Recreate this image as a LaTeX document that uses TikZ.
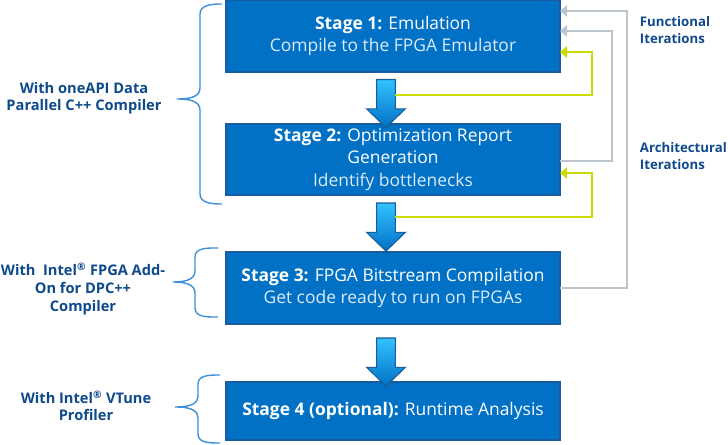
\documentclass[tikz,border=0pt]{standalone}
\usepackage{fontspec}
\setmainfont{Open Sans}
\usepackage{tikz}
\usetikzlibrary{shapes,arrows,arrows.meta,positioning,calc}
\usepackage{xcolor}

\definecolor{intelblue}{HTML}{0071C5}
\definecolor{boxline}{HTML}{1A5B9B}
\definecolor{labelblue}{HTML}{0E498C}
\definecolor{bracecol}{HTML}{3D8FD6}
\definecolor{loopgreen}{HTML}{C8DC00}
\definecolor{loopgrey}{HTML}{BCC4CC}
\definecolor{subtext}{HTML}{DCEBF8}

\tikzset{
  stagebox/.style={draw=boxline, line width=1pt, fill=intelblue, text=white, minimum width=8.35cm, align=center, inner sep=0pt,
    font=\fontsize{12.4}{15.8}\selectfont},
  flowarrow/.style={single arrow, shape border rotate=270, draw=boxline, line width=0.8pt, top color=cyan!70!blue!80, bottom color=intelblue,
    minimum height=1.2cm, minimum width=0.95cm, single arrow head extend=0.25cm, single arrow tip angle=92, inner sep=0.22cm},
  greenloop/.style={draw=loopgreen, line width=2pt, -{Triangle[length=5pt,width=8pt]}},
  greyloop/.style={draw=loopgrey, line width=2pt, -{Triangle[length=5pt,width=8pt]}},
  sidelabel/.style={text=labelblue, align=center, font=\bfseries\fontsize{10.4}{12.5}\selectfont},
  iterlabel/.style={text=labelblue, align=left, anchor=west, font=\bfseries\fontsize{9.4}{12.5}\selectfont},
  bracket/.style={draw=bracecol, line width=1pt},
}

\begin{document}
\begin{tikzpicture}[x=0.025cm, y=-0.025cm]
  \useasboundingbox (0,0) rectangle (728,445);

  % stages
  \node[stagebox, minimum height=1.8cm] (s1) at (393,36) {\textbf{Stage 1:} Emulation\\{\color{subtext}Compile to the FPGA Emulator}};
  \node[stagebox, minimum height=1.775cm] (s2) at (393,159.5) {\textbf{Stage 2:} Optimization Report\\Generation\\{\color{subtext}Identify bottlenecks}};
  \node[stagebox, minimum height=1.8cm] (s3) at (393,288) {\textbf{Stage 3:} FPGA Bitstream Compilation\\{\color{subtext}Get code ready to run on FPGAs}};
  \node[stagebox, minimum height=1.45cm] (s4) at (393,411) {\textbf{Stage 4 (optional):} Runtime Analysis};

  % block arrows between stages
  \node[flowarrow] (a12) at (386,99) {};
  \node[flowarrow] (a23) at (386,222.5) {};
  \node[flowarrow] (a34) at (386,357.5) {};

  % iteration loops
  \coordinate (g1) at (395,95);
  \coordinate (g2) at (395,217);
  \coordinate (f1) at (560,52);
  \coordinate (f2) at (560,173);
  \draw[greenloop] (g1) -- ++(197,0) |- (f1);
  \draw[greenloop] (g2) -- ++(197,0) |- (f2);

  \coordinate (r2) at (560,161);
  \coordinate (r3) at (560,288);
  \coordinate (t1) at (560,11);
  \coordinate (t2) at (560,31);
  \draw[greyloop] (r3) -- ++(67,0) |- (t1);
  \draw[greyloop] (r2) -- ++(52,0) |- (t2);

  \node[iterlabel] (func) at (635,30) {Functional\\Iterations};
  \node[iterlabel] (arch) at (635,156) {Architectural\\Iterations};

  % tool braces
  \draw[bracket] (222,4) to[out=180,in=90] (200,14) -- (200,88) to[out=-90,in=0] (177,99) to[out=0,in=90] (200,110) -- (200,194) to[out=-90,in=180] (222,204);
  \draw[bracket] (218,248) to[out=180,in=90] (195,257) -- (195,271) to[out=-90,in=0] (173,282) to[out=0,in=90] (195,293) -- (195,308) to[out=-90,in=180] (218,317);
  \draw[bracket] (220,375) to[out=180,in=90] (198,384) -- (198,396) to[out=-90,in=0] (175,407) to[out=0,in=90] (198,418) -- (198,434) to[out=-90,in=180] (220,443);

  \node[sidelabel] (t1lab) at (84,98) {With oneAPI Data\\Parallel C++ Compiler};
  \node[sidelabel] (t2lab) at (83,289) {With\ \ Intel\textsuperscript{®} FPGA Add-\\On for DPC++\\Compiler};
  \node[sidelabel] (t3lab) at (86,406) {With Intel\textsuperscript{®} VTune\\Profiler};
\end{tikzpicture}
\end{document}
